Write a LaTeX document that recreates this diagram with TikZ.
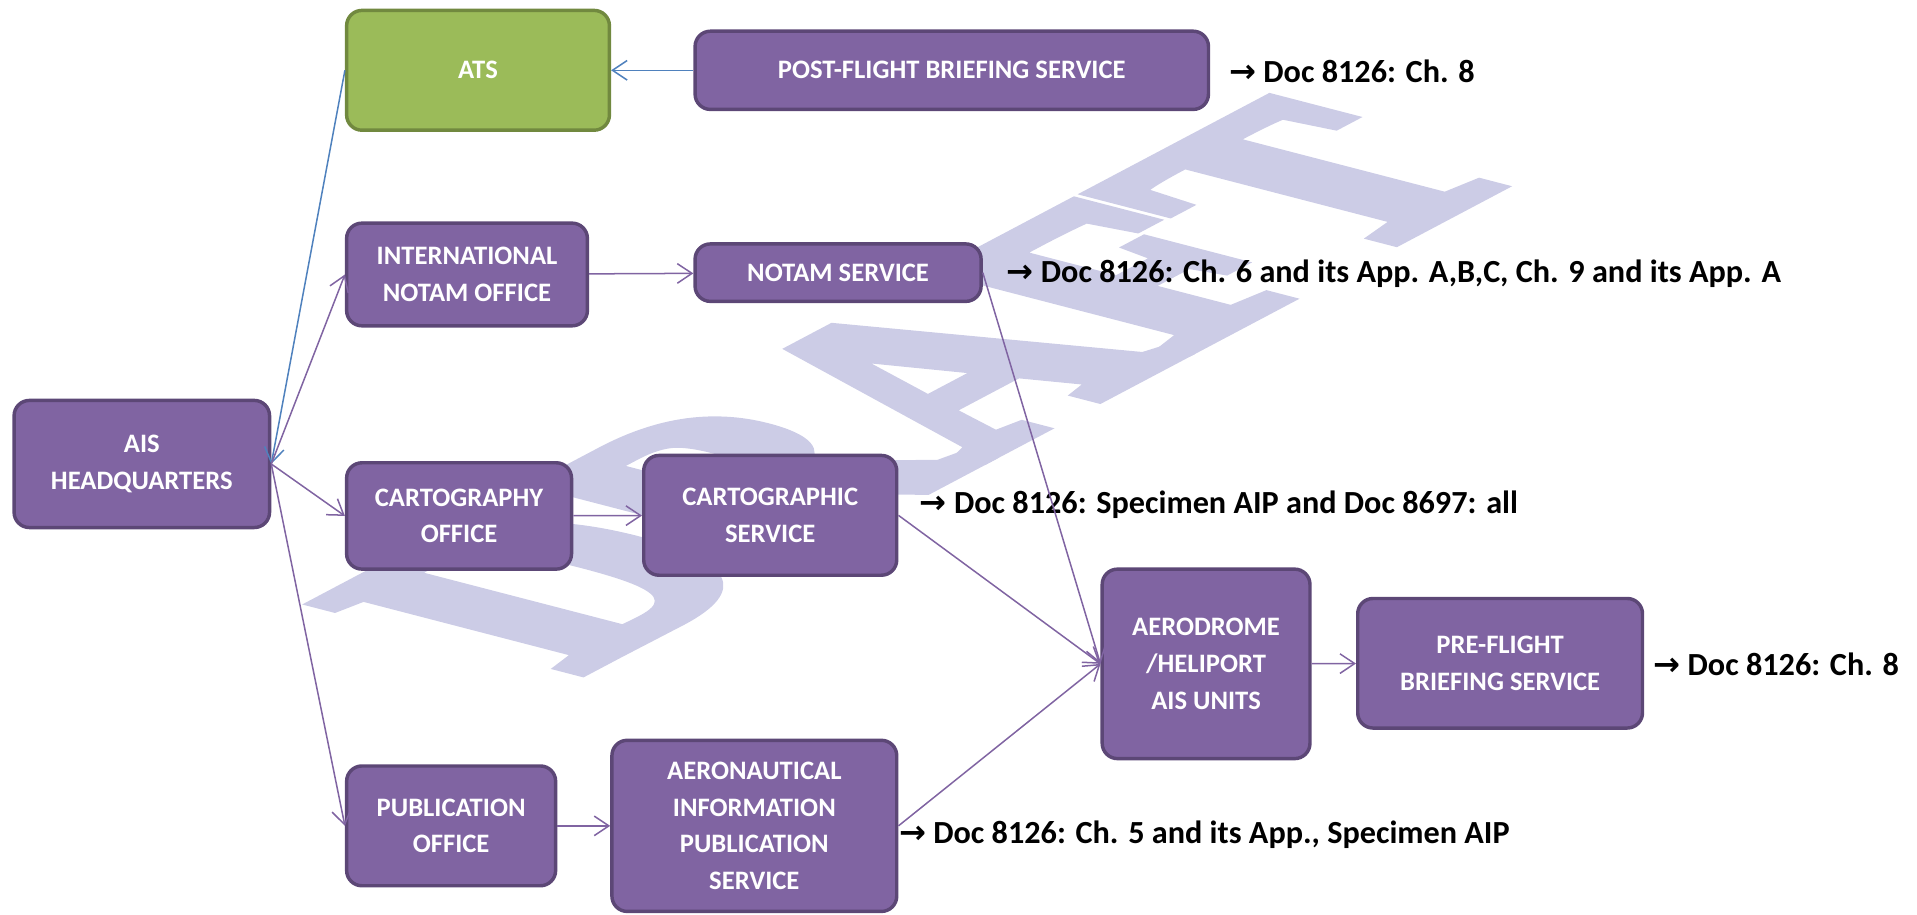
\documentclass[tikz,border=0pt]{standalone}
\usepackage{fontspec}
\setmainfont{Carlito}
\newfontfamily\arrowfont{DejaVu Sans}
\newfontfamily\wmfont[FakeBold=5]{Liberation Serif Bold}
\usetikzlibrary{arrows.meta}
\definecolor{boxfill}{RGB}{128,100,162}
\definecolor{boxline}{RGB}{92,71,118}
\definecolor{atsfill}{RGB}{155,187,89}
\definecolor{atsline}{RGB}{113,137,63}
\definecolor{linkblue}{RGB}{79,129,189}
\definecolor{wmark}{RGB}{204,204,230}
\begin{document}
\begin{tikzpicture}[x=0.02cm, y=-0.02cm,
  box/.style={rectangle, rounded corners=0.25cm, draw=boxline, fill=boxfill, line width=1.6pt, text=white, align=center, font=\bfseries\fontsize{12.4}{17}\selectfont},
  atsbox/.style={box, draw=atsline, fill=atsfill},
  link/.style={draw=boxfill, line width=0.7pt, -{Straight Barb[length=2.4mm,width=3.2mm]}},
  bluelink/.style={link, draw=linkblue},
  doc/.style={anchor=west, inner sep=0pt, font=\bfseries\fontsize{15}{17}\selectfont}]
\useasboundingbox (0,0) rectangle (1568,748);
% watermark
\begin{scope}[shift={(757,315)}, xscale=2.7, rotate=55]
\node[transform shape, text=wmark, font=\wmfont\fontsize{84}{84}\selectfont] (draft) at (0,0) {DRAFT};
\end{scope}
\node[atsbox, minimum width=4.3cm, minimum height=1.96cm] (ats) at (391,57.5) {ATS};
\node[box, minimum width=8.4cm, minimum height=1.28cm] (pfb) at (778.5,57.5) {POST-FLIGHT BRIEFING SERVICE};
\node[box, minimum width=3.94cm, minimum height=1.68cm] (ino) at (382,224.5) {INTERNATIONAL\\NOTAM OFFICE};
\node[box, minimum width=4.68cm, minimum height=0.94cm] (nsv) at (685.5,223) {NOTAM SERVICE};
\node[box, minimum width=4.18cm, minimum height=2.08cm] (hq) at (116,379.5) {AIS\\HEADQUARTERS};
\node[box, minimum width=3.68cm, minimum height=1.74cm] (cao) at (375.5,422) {CARTOGRAPHY\\OFFICE};
\node[box, minimum width=4.14cm, minimum height=1.96cm] (cas) at (630,421.5) {CARTOGRAPHIC\\SERVICE};
\node[box, minimum width=3.4cm, minimum height=3.1cm] (aeu) at (986.5,543) {AERODROME\\/HELIPORT\\AIS UNITS};
\node[box, minimum width=4.66cm, minimum height=2.12cm] (prb) at (1227,542.5) {PRE-FLIGHT\\BRIEFING SERVICE};
\node[box, minimum width=3.42cm, minimum height=1.96cm] (puo) at (369,675.5) {PUBLICATION\\OFFICE};
\node[box, minimum width=4.66cm, minimum height=2.8cm] (aip) at (617,675.5) {AERONAUTICAL\\INFORMATION\\PUBLICATION\\SERVICE};
% references
\node[doc] (ref1) at (1005,58) {{\arrowfont →} Doc 8126: Ch. 8};
\node[doc] (ref2) at (823,224) {{\arrowfont →} Doc 8126: Ch. 6 and its App. A,B,C, Ch. 9 and its App. A};
\node[doc] (ref3) at (752,413) {{\arrowfont →} Doc 8126: Specimen AIP and Doc 8697: all};
\node[doc] (ref4) at (1352,543) {{\arrowfont →} Doc 8126: Ch. 8};
\node[doc] (ref5) at (735,683) {{\arrowfont →} Doc 8126: Ch. 5 and its App., Specimen AIP};
% links
\draw[bluelink](pfb) -- (ats);
\draw[bluelink](ats.west) -- (hq.east);
\draw[link](hq.east) -- (ino.west);
\draw[link](hq.east) -- (cao.west);
\draw[link](hq.east) -- (puo.west);
\draw[link](ino) -- (nsv);
\draw[link](cao) -- (cas);
\draw[link](puo) -- (aip);
\draw[link](nsv.east) -- (aeu.west);
\draw[link](cas.east) -- (aeu.west);
\draw[link](aip.east) -- (aeu.west);
\draw[link](aeu) -- (prb);
\end{tikzpicture}
\end{document}
